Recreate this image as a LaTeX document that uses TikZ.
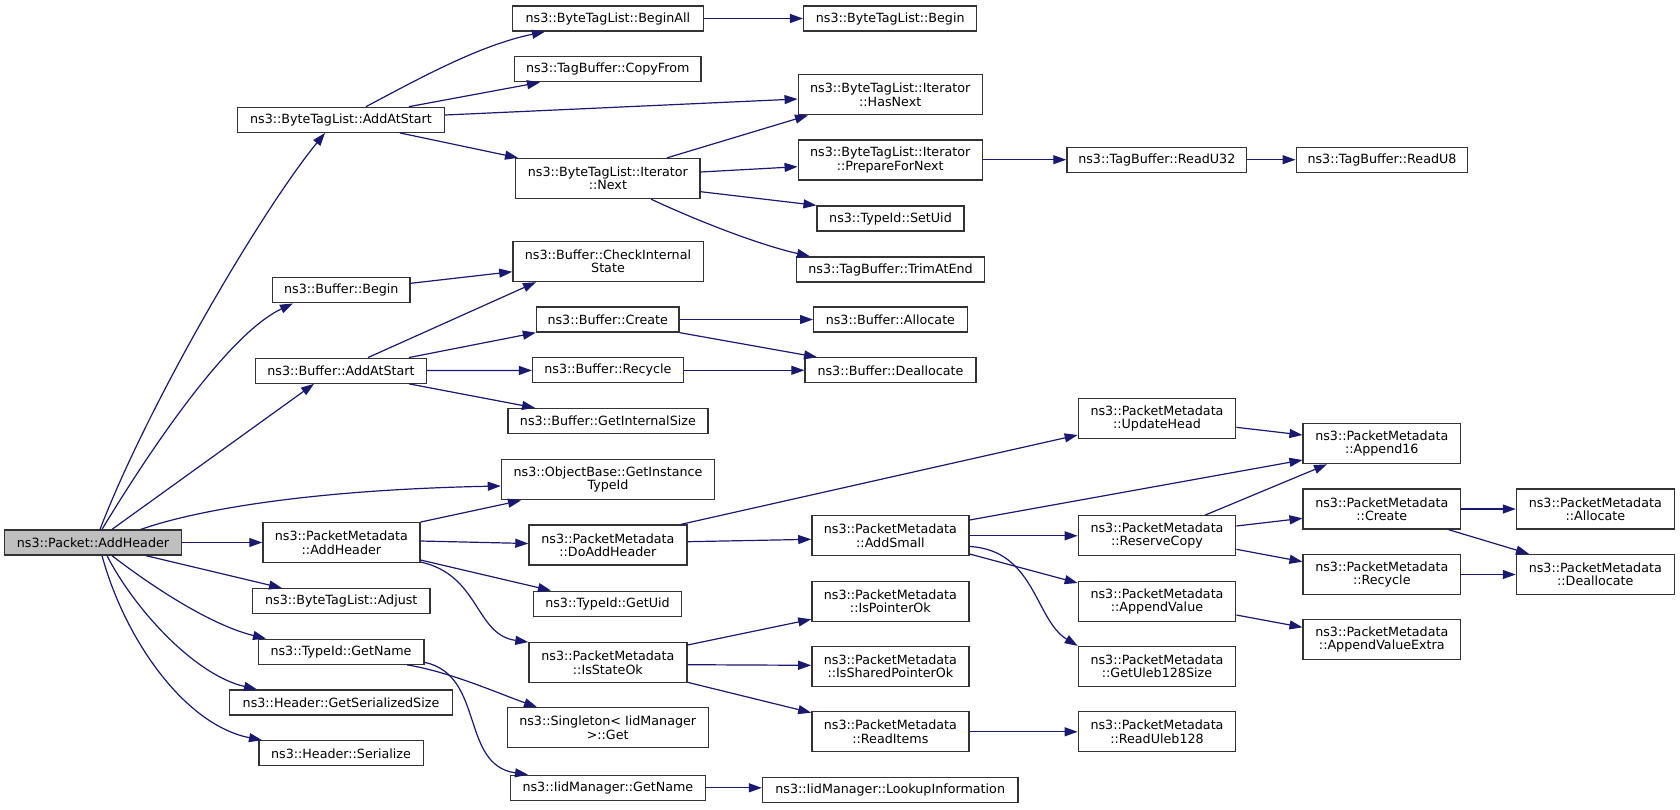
\documentclass[tikz,border=0pt]{standalone}
\usepackage{fontspec}
\setmainfont{DejaVu Sans}
\usetikzlibrary{arrows.meta}
\definecolor{edgec}{HTML}{191970}
\definecolor{boxc}{HTML}{333333}
\definecolor{rootc}{HTML}{BFBFBF}
\tikzset{
  fn/.style={draw=boxc, line width=1.3pt, fill=white, inner sep=0pt, align=center,
    minimum height=25pt, font=\fontsize{12.7}{13.2}\selectfont},
  fnii/.style={fn, minimum height=40pt},
  e/.style={draw=edgec, line width=1.2pt, -{Triangle[length=13pt,width=9pt]}},
}
\begin{document}
\begin{tikzpicture}[x=1pt,y=-1pt]
\useasboundingbox (0,0) rectangle (1680,809);
% column 0
\node[fn, fill=rootc, minimum width=177pt] (pah) at (93,542.5) {ns3::Packet::AddHeader};
% column 1
\node[fn, minimum width=207pt] (btlaas) at (341,119.8) {ns3::ByteTagList::AddAtStart};
\node[fn, minimum width=137.5pt] (bufbegin) at (341.3,290.3) {ns3::Buffer::Begin};
\node[fn, minimum width=170.7pt] (bufaas) at (341,370.7) {ns3::Buffer::AddAtStart};
\node[fnii, minimum width=157pt] (pmah) at (341.4,542.7) {ns3::PacketMetadata\\::AddHeader};
\node[fn, minimum width=177.5pt] (adjust) at (341.3,601.2) {ns3::ByteTagList::Adjust};
\node[fn, minimum width=165.7pt] (tgname) at (341,651.7) {ns3::TypeId::GetName};
\node[fn, minimum width=222.9pt] (gss) at (341,702.5) {ns3::Header::GetSerializedSize};
\node[fn, minimum width=164.3pt] (ser) at (341,753.3) {ns3::Header::Serialize};
% column 2
\node[fn, minimum width=190.7pt] (beginall) at (607.9,18.5) {ns3::ByteTagList::BeginAll};
\node[fn, minimum width=186.8pt] (copyfrom) at (607.7,69.2) {ns3::TagBuffer::CopyFrom};
\node[fnii, minimum width=184.3pt] (next) at (607.9,178.5) {ns3::ByteTagList::Iterator\\::Next};
\node[fnii, minimum width=190.3pt] (cis) at (608,261.5) {ns3::Buffer::CheckInternal\\State};
\node[fn, minimum width=142.5pt] (bcreate) at (607.7,319.5) {ns3::Buffer::Create};
\node[fn, minimum width=150.7pt] (brecycle) at (607.9,370.3) {ns3::Buffer::Recycle};
\node[fn, minimum width=200pt] (gis) at (607.9,421) {ns3::Buffer::GetInternalSize};
\node[fnii, minimum width=213.2pt] (gitid) at (608,479.8) {ns3::ObjectBase::GetInstance\\TypeId};
\node[fnii, minimum width=157.9pt] (doah) at (607.9,545) {ns3::PacketMetadata\\::DoAddHeader};
\node[fn, minimum width=148.6pt] (getuid) at (607.5,603.7) {ns3::TypeId::GetUid};
\node[fnii, minimum width=157.9pt] (isok) at (607.9,662.7) {ns3::PacketMetadata\\::IsStateOk};
\node[fnii, minimum width=201pt] (sget) at (607.7,727.8) {ns3::Singleton< IidManager\\>::Get};
\node[fn, minimum width=195pt] (iidname) at (607.9,787.8) {ns3::IidManager::GetName};
% column 3
\node[fn, minimum width=173.2pt] (begin) at (890.2,18.5) {ns3::ByteTagList::Begin};
\node[fnii, minimum width=184pt] (hasnext) at (890.2,94.7) {ns3::ByteTagList::Iterator\\::HasNext};
\node[fnii, minimum width=184pt] (prep) at (890.2,160) {ns3::ByteTagList::Iterator\\::PrepareForNext};
\node[fn, minimum width=146.8pt] (setuid) at (890.5,218.5) {ns3::TypeId::SetUid};
\node[fn, minimum width=187.5pt] (trim) at (890.5,269.5) {ns3::TagBuffer::TrimAtEnd};
\node[fn, minimum width=153.5pt] (balloc) at (890.4,319.5) {ns3::Buffer::Allocate};
\node[fn, minimum width=171pt] (bdealloc) at (890.5,370.3) {ns3::Buffer::Deallocate};
\node[fnii, minimum width=157.1pt] (addsmall) at (890.4,535.8) {ns3::PacketMetadata\\::AddSmall};
\node[fnii, minimum width=157.1pt] (isptr) at (890.4,601.2) {ns3::PacketMetadata\\::IsPointerOk};
\node[fnii, minimum width=157.1pt] (isshared) at (890.4,666.5) {ns3::PacketMetadata\\::IsSharedPointerOk};
\node[fnii, minimum width=157.1pt] (readitems) at (890.4,731.8) {ns3::PacketMetadata\\::ReadItems};
\node[fn, minimum width=255.4pt] (lookup) at (890.2,790.3) {ns3::IidManager::LookupInformation};
% column 4
\node[fn, minimum width=179.8pt] (readu32) at (1156.8,159.7) {ns3::TagBuffer::ReadU32};
\node[fnii, minimum width=157.4pt] (updhead) at (1157,418.5) {ns3::PacketMetadata\\::UpdateHead};
\node[fnii, minimum width=157.4pt] (resv) at (1157,535.8) {ns3::PacketMetadata\\::ReserveCopy};
\node[fnii, minimum width=157.4pt] (appval) at (1157,601.2) {ns3::PacketMetadata\\::AppendValue};
\node[fnii, minimum width=157.4pt] (uleb) at (1157,666.5) {ns3::PacketMetadata\\::GetUleb128Size};
\node[fnii, minimum width=157.4pt] (readuleb) at (1157,731.8) {ns3::PacketMetadata\\::ReadUleb128};
% column 5
\node[fn, minimum width=171.6pt] (readu8) at (1382,159.7) {ns3::TagBuffer::ReadU8};
\node[fnii, minimum width=157.4pt] (app16) at (1381.8,443.7) {ns3::PacketMetadata\\::Append16};
\node[fnii, minimum width=157.4pt] (pmcreate) at (1381.8,509) {ns3::PacketMetadata\\::Create};
\node[fnii, minimum width=157.4pt] (pmrecycle) at (1381.8,574.5) {ns3::PacketMetadata\\::Recycle};
\node[fnii, minimum width=157.4pt] (appvx) at (1381.8,639.8) {ns3::PacketMetadata\\::AppendValueExtra};
% column 6
\node[fnii, minimum width=157.8pt] (pmalloc) at (1595.3,509) {ns3::PacketMetadata\\::Allocate};
\node[fnii, minimum width=157.8pt] (pmdealloc) at (1595.3,574.5) {ns3::PacketMetadata\\::Deallocate};

% edges from root
\draw[e] (pah.north -| 100,0) .. controls (150,400) and (262,210) .. (btlaas.south -| 325,0);
\draw[e] (pah.north -| 102,0) .. controls (150,450) and (228,334) .. (bufbegin.south -| 293,0);
\draw[e] (pah.north -| 112,0) -- (bufaas.south -| 314,0);
\draw[e] (pah.north -| 141,0) .. controls (190,512) and (300,490) .. (gitid.west |- 0,486);
\draw[e] (pah.east) -- (pmah.west |- pah.east);
\draw[e] (pah.south -| 146,0) -- (adjust.north -| 282,0);
\draw[e] (pah.south -| 112,0) .. controls (150,585) and (210,625) .. (tgname.north -| 266,0);
\draw[e] (pah.south -| 107,0) .. controls (135,610) and (195,675) .. (gss.north -| 257,0);
\draw[e] (pah.south -| 102,0) .. controls (125,640) and (185,725) .. (ser.north -| 262,0);
% ByteTagList
\draw[e] (btlaas.north -| 366,0) .. controls (420,78) and (480,45) .. (beginall.south -| 545,0);
\draw[e] (btlaas.north -| 409,0) -- (copyfrom.south -| 540,0);
\draw[e] (btlaas.east |- 0,115) -- (hasnext.west |- 0,99);
\draw[e] (btlaas.south -| 400,0) -- (next.north -| 518,0);
\draw[e] (beginall) -- (begin);
\draw[e] (next.north -| 667,0) -- (hasnext.south -| 808,0);
\draw[e] (next.east |- 0,172) -- (prep.west |- 0,166.7);
\draw[e] (next.east |- 0,191.7) -- (setuid.north west);
\draw[e] (next.south -| 651,0) .. controls (700,222) and (760,245) .. (trim.north -| 810,0);
\draw[e] (prep.east |- readu32.west) -- (readu32.west);
\draw[e] (readu32) -- (readu8);
% Buffer
\draw[e] (bufbegin.east |- 0,283.3) -- (cis.west |- 0,271.7);
\draw[e] (bufaas.north -| 368,0) -- (cis.south -| 536,0);
\draw[e] (bufaas.north -| 409,0) -- (bcreate.south west);
\draw[e] (bufaas) -- (brecycle);
\draw[e] (bufaas.south -| 409,0) -- (gis.north -| 535,0);
\draw[e] (bcreate) -- (balloc);
\draw[e] (bcreate.south east) -- (bdealloc.north -| 817,0);
\draw[e] (brecycle) -- (bdealloc);
% PacketMetadata
\draw[e] (pmah.north east) -- (gitid.south -| 521,0);
\draw[e] (pmah.east |- 0,541) -- (doah.west |- 0,543.5);
\draw[e] (pmah.east |- 0,560) -- (getuid.north -| 551,0);
\draw[e] (pmah.east |- 0,562) .. controls (480,575) and (475,635) .. (isok.north west);
\draw[e] (doah.north -| 681,0) -- (updhead.west |- 0,435);
\draw[e] (doah.east |- 0,541.7) -- (addsmall.west |- 0,539.3);
\draw[e] (updhead.east |- 0,427.3) -- (app16.west |- 0,435);
\draw[e] (addsmall.east |- 0,520) -- (app16.west |- 0,460);
\draw[e] (addsmall) -- (resv);
\draw[e] (addsmall.east |- 0,554) -- (appval.west |- 0,583);
\draw[e] (addsmall.east |- 0,546.5) .. controls (1035,550) and (1035,620) .. (uleb.north west);
\draw[e] (resv.north -| 1205,0) -- (app16.south -| 1327,0);
\draw[e] (resv.east |- 0,526) -- (pmcreate.west |- 0,518.3);
\draw[e] (resv.east |- 0,549.3) -- (pmrecycle.west |- 0,561.7);
\draw[e] (pmcreate) -- (pmalloc);
\draw[e] (pmcreate.south -| 1448.5,0) -- (pmdealloc.north -| 1529,0);
\draw[e] (pmrecycle) -- (pmdealloc);
\draw[e] (appval.east |- 0,615) -- (appvx.west |- 0,627.3);
\draw[e] (isok.east |- 0,645) -- (isptr.west |- 0,619.3);
\draw[e] (isok.east |- 0,664.7) -- (isshared.west |- 0,665.3);
\draw[e] (isok.east |- 0,682.3) -- (readitems.west |- 0,712.7);
\draw[e] (readitems) -- (readuleb);
% TypeId / IidManager
\draw[e] (tgname.south -| 407,0) .. controls (450,672) and (495,692) .. (sget.north -| 537,0);
\draw[e] (tgname.east |- 0,662.3) .. controls (485,675) and (460,765) .. (iidname.north -| 528,0);
\draw[e] (iidname.east) -- (lookup.west |- iidname.east);
\end{tikzpicture}
\end{document}
